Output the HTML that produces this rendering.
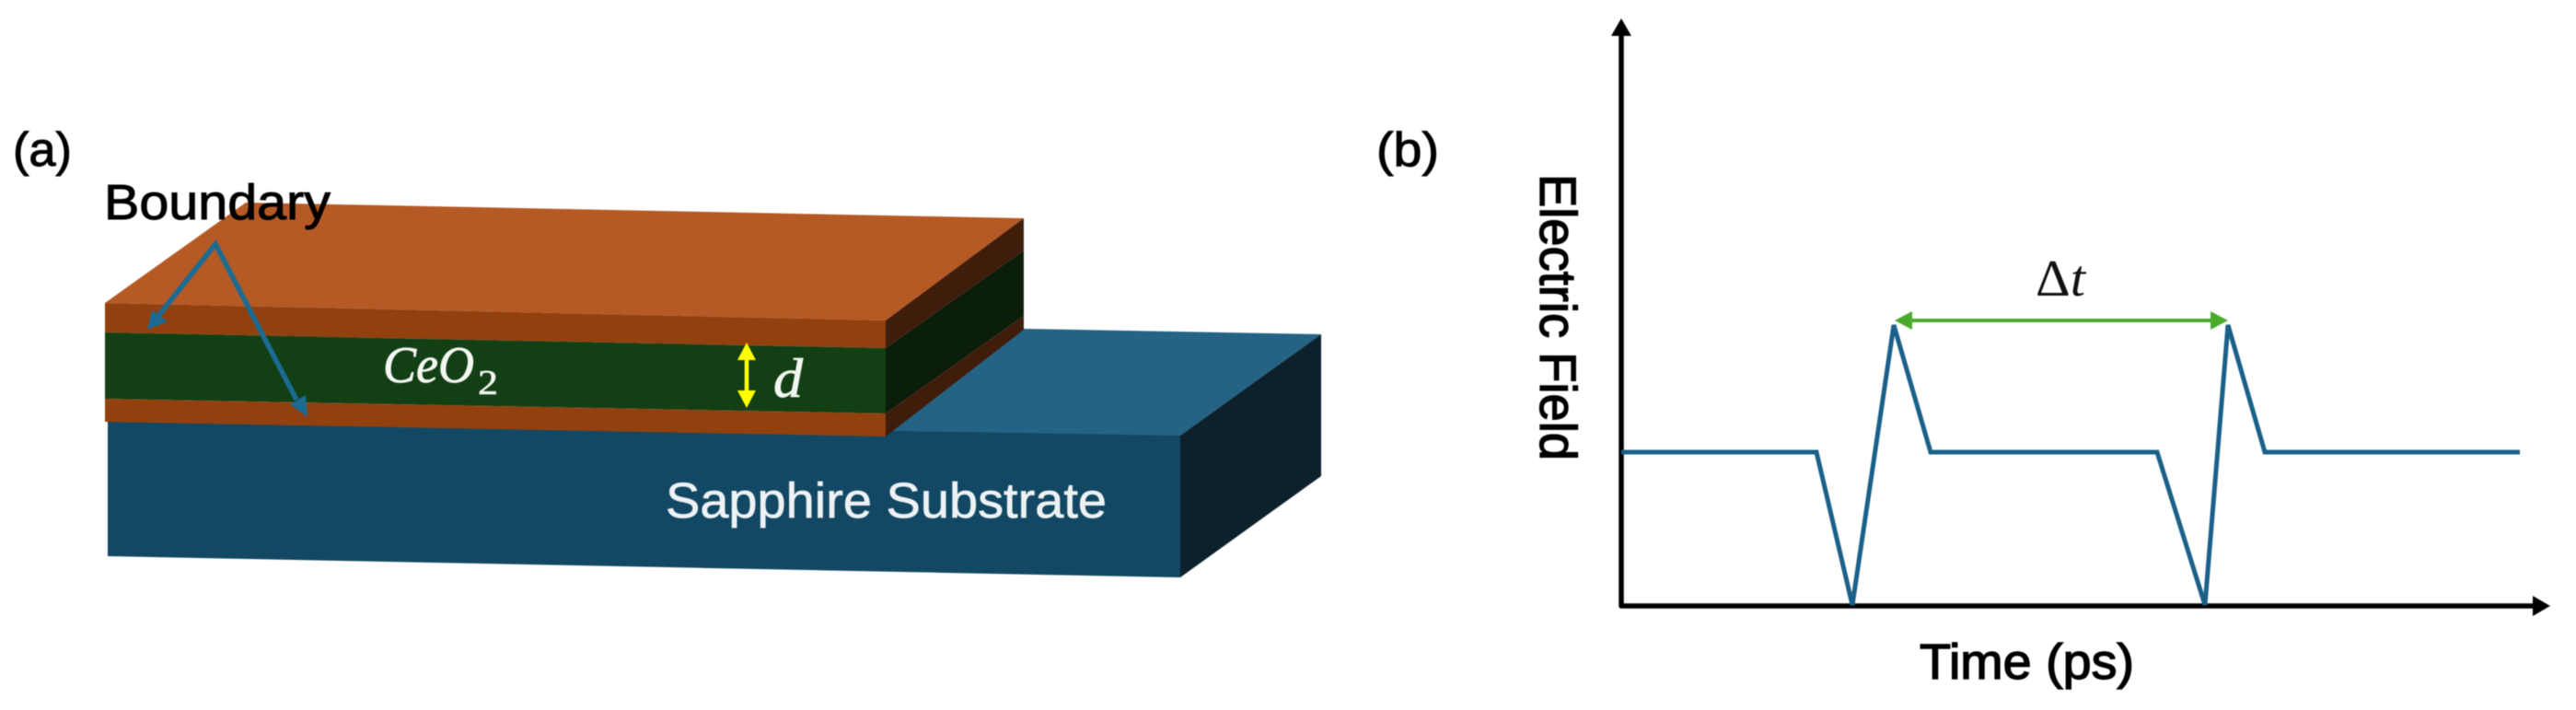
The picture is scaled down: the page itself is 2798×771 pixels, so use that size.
<!DOCTYPE html>
<html>
<head>
<meta charset="utf-8">
<style>
html,body{margin:0;padding:0;background:#fff;width:2798px;height:771px;overflow:hidden}
svg{display:block;filter:blur(0.6px)}
text{font-family:"Liberation Sans",sans-serif}
.m{font-family:"Liberation Serif",serif;font-style:italic;fill:#f4f6f2;stroke:#f4f6f2}
</style>
</head>
<body>
<svg xmlns="http://www.w3.org/2000/svg" width="2798" height="771" viewBox="0 0 2798 771">
<rect width="2798" height="771" fill="#fff"/>

<!-- Substrate -->
<polygon points="1112,357 1435,363 1282,473 950,472" fill="#246384"/>
<polygon points="117,456 974,468 1282,473 1282,627 117,604" fill="#124863"/>
<polygon points="1282,473 1435,363 1435,517 1282,627" fill="#0c212b"/>

<!-- Film top and side -->
<polygon points="114,329 267,220 1112,237 962,348" fill="#b55a25"/>
<polygon points="962,348 1112,237 1112,272 962,378" fill="#401c0b"/>
<polygon points="962,378 1112,272 1112,343 962,449" fill="#0b1e0b"/>
<polygon points="962,449 1112,343 1112,358 962,474" fill="#401c0b"/>

<!-- Film front -->
<polygon points="114,329 962,348 962,378 114,361" fill="#93400f"/>
<polygon points="114,361 962,378 962,449 114,433" fill="#123f14"/>
<polygon points="114,433 962,449 962,474 114,458" fill="#93400f"/>

<!-- Boundary arrows -->
<polyline points="172,343 234,265 322,434" stroke="#1b6b93" stroke-width="5.5" fill="none"/>
<polygon points="160,358 165,337 182,349" fill="#1b6b93"/>
<polygon points="334,453 315,439 332,429" fill="#1b6b93"/>

<!-- Yellow d arrow -->
<line x1="811" y1="385" x2="811" y2="430" stroke="#ffff00" stroke-width="4.5"/>
<polygon points="811,372 821,391 801,391" fill="#ffff00"/>
<polygon points="811,443 821,424 801,424" fill="#ffff00"/>

<!-- Text (a) -->
<text x="14" y="180" font-size="52" fill="#000" stroke="#000" stroke-width="1" textLength="64" lengthAdjust="spacingAndGlyphs">(a)</text>
<text x="113" y="238" font-size="54" fill="#000" stroke="#000" stroke-width="1" textLength="246" lengthAdjust="spacingAndGlyphs">Boundary</text>
<text class="m" x="416" y="415" font-size="56" stroke-width="0.8" textLength="99" lengthAdjust="spacingAndGlyphs">CeO</text>
<text class="m" x="519" y="428" font-size="38" style="font-style:normal" stroke-width="0.6" textLength="22" lengthAdjust="spacingAndGlyphs">2</text>
<text class="m" x="840" y="431" font-size="60" stroke-width="0.8" textLength="32" lengthAdjust="spacingAndGlyphs">d</text>
<text x="723" y="562" font-size="54" fill="#eef2f4" stroke="#eef2f4" stroke-width="0.7" textLength="479" lengthAdjust="spacingAndGlyphs">Sapphire Substrate</text>

<!-- Panel b -->
<text x="1495" y="180" font-size="52" fill="#000" stroke="#000" stroke-width="1" textLength="68" lengthAdjust="spacingAndGlyphs">(b)</text>
<text transform="translate(1673,189) rotate(90)" font-size="56" fill="#000" stroke="#000" stroke-width="1.4" textLength="311" lengthAdjust="spacingAndGlyphs">Electric Field</text>
<text x="2085" y="737" font-size="54" fill="#000" stroke="#000" stroke-width="1.4" textLength="233" lengthAdjust="spacingAndGlyphs">Time (ps)</text>

<!-- Axes -->
<polyline points="1761,36 1761,658 2755,658" fill="none" stroke="#000" stroke-width="5.5" stroke-linejoin="round"/>
<polygon points="1761,20 1772,39 1750,39" fill="#000"/>
<polygon points="2770,658 2751,647 2751,669" fill="#000"/>

<!-- Signal -->
<polyline points="1761,491 1973,491 2012,657 2057,353 2097,491 2343,491 2395,657 2420,353 2460,491 2737,491" fill="none" stroke="#1a6088" stroke-width="5" stroke-linejoin="miter" stroke-miterlimit="3"/>

<!-- Green dt arrow -->
<line x1="2072" y1="348" x2="2406" y2="348" stroke="#4aaa2c" stroke-width="4"/>
<polygon points="2058,348 2077,338 2077,358" fill="#4aaa2c"/>
<polygon points="2420,348 2401,338 2401,358" fill="#4aaa2c"/>

<text x="2211" y="321" font-size="56" fill="#111" style="font-family:'Liberation Serif',serif" textLength="54" lengthAdjust="spacingAndGlyphs">Δ<tspan font-style="italic">t</tspan></text>
</svg>
</body>
</html>
